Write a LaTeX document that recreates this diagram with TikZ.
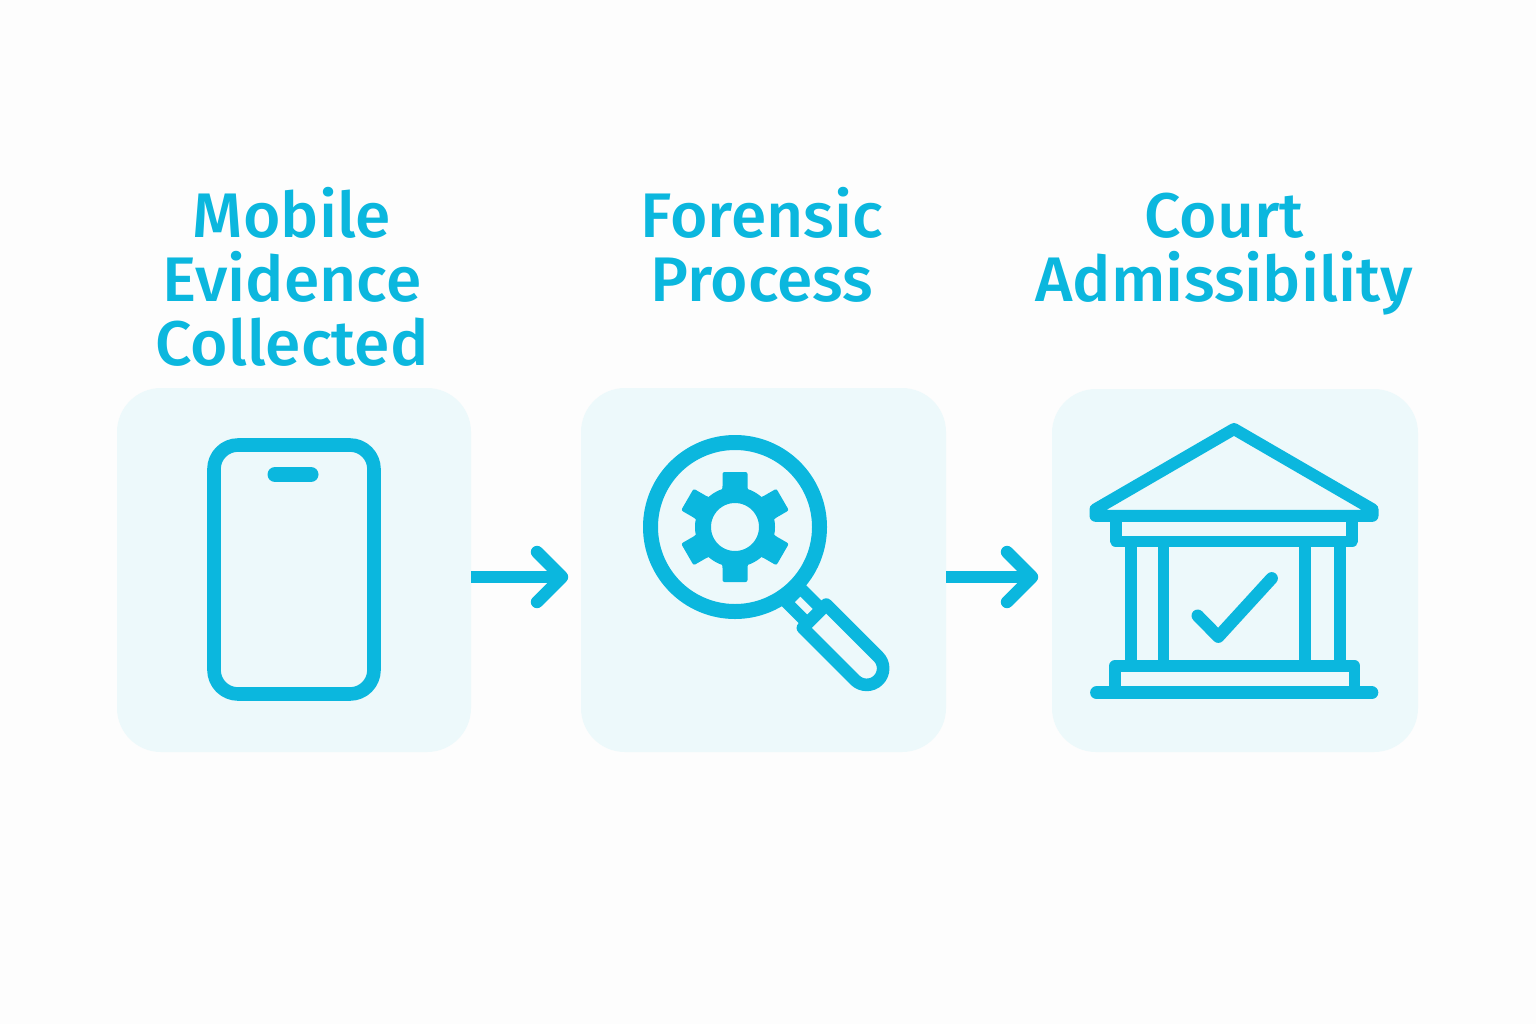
\documentclass[tikz,border=0pt]{standalone}
\usepackage{fontspec}
\setmainfont{Fira Sans Medium}[FakeStretch=1.02]
\usepackage{tikz}
\definecolor{iconblue}{HTML}{0BB7DE}
\definecolor{boxtint}{HTML}{EDF9FB}
\definecolor{pagebg}{HTML}{FDFDFD}
\tikzset{
  evbox/.style={fill=boxtint,rounded corners=22pt,minimum width=182.5pt,minimum height=182pt,inner sep=0pt},
  title/.style={text=iconblue,align=center,anchor=north,font=\fontsize{31.5}{32}\selectfont},
  icon/.style={draw=iconblue,line width=6.2pt,line join=round,line cap=round},
  flow/.style={draw=iconblue,line width=5.8pt,line join=round},
  chevron/.style={draw=iconblue,line width=6.2pt,line join=round,line cap=round}
}

\begin{document}
\begin{tikzpicture}[x=0.5pt,y=-0.5pt]
\fill[pagebg] (0,0) rectangle (1536,1024);
\useasboundingbox (0,0) rectangle (1536,1024);
\node[evbox,minimum width=177pt] (phonebox) at (294,570) {};
\node[evbox] (lensbox) at (763.5,570) {};
\node[evbox,minimum width=183pt,minimum height=181.5pt] (courtbox) at (1235,570.5) {};
\node[title] (phonetitle) at (292,180) {Mobile\\Evidence\\Collected};
\node[title] (lenstitle) at (762,180) {Forensic\\Process};
\node[title] (courttitle) at (1224,186) {Court\\Admissibility};
% arrows between the boxes
\coordinate (tipa) at (562,577);
\coordinate (tipb) at (1032,577);
\draw[flow] (phonebox.east |- tipa) -- (tipa);
\draw[flow] (lensbox.east |- tipb) -- (tipb);
\foreach \t in {tipa,tipb}{
\draw[chevron] (\t) ++(-25,-25) -- (\t) -- ++(-25,25);
}
% phone
\draw[icon,line width=6.8pt,rounded corners=12pt] (214,445) rectangle (374,694);
\draw[icon,line width=7.5pt] (275,474.5) -- (311,474.5);
% lens with gear
\begin{scope}[shift={(810.3,612)},rotate=-45]
\draw[icon,line width=6pt,line cap=butt] (-24,-10) rectangle (6,10);
\draw[icon,line width=6.3pt] (6,-16.5) -- (79.7,-16.5) arc[start angle=-90,end angle=90,radius=16.5] -- (6,16.5) -- cycle;
\end{scope}
\coordinate (lens) at (735,527);
\draw[icon,line width=7.5pt] (lens) circle[radius=84.5];
\draw[icon,line width=8pt] (lens) circle[radius=32];
\foreach \a in {30,90,...,330}{
\fill[iconblue,rounded corners=1pt,shift={(lens)},rotate=\a] (32,-14) -- (39,-12.5) -- (55,-12.5) -- (55,12.5) -- (39,12.5) -- (32,14) -- cycle;
}
% court building
\draw[icon,line width=6pt] (1095.5,515.8) -- (1095.5,509.3) -- (1234,429) -- (1372.5,509.3) -- (1372.5,515.8) -- cycle;
\draw[icon,line width=5.8pt] (1116,515.8) -- (1116,541.3) -- (1352,541.3) -- (1352,515.8);
\foreach \c in {1130.7,1163.3,1305,1340}{
\draw[icon,line width=5.8pt,line cap=butt] (\c,541.3) -- (\c,666);
}
\draw[icon,line width=5.8pt] (1115,692) -- (1115,666) -- (1354.5,666) -- (1354.5,692);
\draw[icon,line width=6.6pt] (1096.7,692.7) -- (1371.7,692.7);
\draw[icon] (1197.7,615.7) -- (1218.3,636.7) -- (1271.7,578.3);
\end{tikzpicture}
\end{document}
